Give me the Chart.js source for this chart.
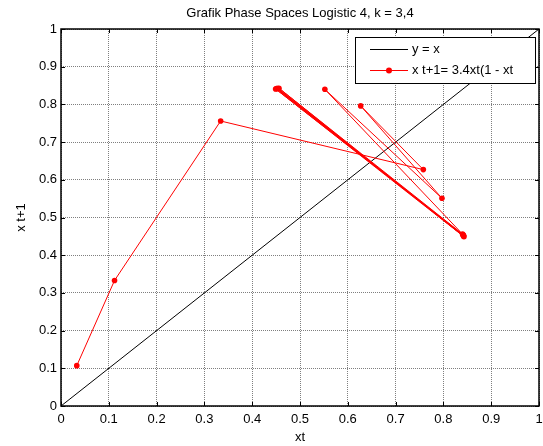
<!DOCTYPE html>
<html>
<head>
<meta charset="utf-8">
<script src="https://cdn.jsdelivr.net/npm/chart.js@4/dist/chart.umd.min.js"></script>
<style>
  html, body { margin: 0; padding: 0; background: #fff; }
  #wrap { width: 543px; height: 446px; }
</style>
</head>
<body>
<div id="wrap"><canvas id="phase-chart"></canvas></div>
<script>
// values
const xt  = [0.033, 0.112, 0.334, 0.758, 0.627, 0.797, 0.552, 0.840, 0.456, 0.843, 0.449, 0.841, 0.454, 0.842, 0.451, 0.842, 0.452, 0.842]
const xt1 = [0.107, 0.333, 0.756, 0.627, 0.796, 0.551, 0.840, 0.456, 0.843, 0.449, 0.841, 0.454, 0.842, 0.451, 0.842, 0.452, 0.842, 0.452]
const diagX = [0, 1]
const diagY = [0, 1]
const tickValues = [0, 0.1, 0.2, 0.3, 0.4, 0.5, 0.6, 0.7, 0.8, 0.9, 1]
const tickLabels = ["0", "0.1", "0.2", "0.3", "0.4", "0.5", "0.6", "0.7", "0.8", "0.9", "1"]
const titleText = "Grafik Phase Spaces Logistic 4, k = 3,4"
const legendLabels = ["y = x", "x t+1= 3.4xt(1 - xt"]

const FONT = "'Liberation Sans', Arial, sans-serif"

const matlabAxes = {
    id: "matlabAxes",
    afterDraw(chart){
        const ctx = chart.ctx
        const a = chart.chartArea
        const sx = chart.scales.x, sy = chart.scales.y
        ctx.save()
        // title
        ctx.fillStyle = "#000"
        ctx.font = "13px " + FONT
        ctx.textAlign = "center"
        ctx.textBaseline = "middle"
        ctx.fillText(titleText, (a.left + a.right) / 2, 13)
        // inward ticks on all four sides
        ctx.strokeStyle = "#000"
        ctx.lineWidth = 1
        ctx.beginPath()
        tickValues.forEach(v => {
            const px = Math.round(sx.getPixelForValue(v)) + 0.5
            ctx.moveTo(px, a.bottom); ctx.lineTo(px, a.bottom - 4)
            ctx.moveTo(px, a.top); ctx.lineTo(px, a.top + 4)
            const py = Math.round(sy.getPixelForValue(v)) + 0.5
            ctx.moveTo(a.left, py); ctx.lineTo(a.left + 4, py)
            ctx.moveTo(a.right, py); ctx.lineTo(a.right - 4, py)
        })
        ctx.stroke()
        // legend box
        const lx = 355.5, ly = 37.5, lw = 180, lh = 46
        ctx.fillStyle = "#fff"
        ctx.fillRect(lx, ly, lw, lh)
        ctx.strokeStyle = "#000"
        ctx.strokeRect(lx, ly, lw, lh)
        const rows = [49.5, 70.5]
        ctx.beginPath()
        ctx.moveTo(370, rows[0]); ctx.lineTo(408, rows[0])
        ctx.strokeStyle = "#000"
        ctx.stroke()
        ctx.beginPath()
        ctx.moveTo(370, rows[1]); ctx.lineTo(408, rows[1])
        ctx.strokeStyle = "#ff0000"
        ctx.stroke()
        ctx.beginPath()
        ctx.arc(389, rows[1], 3, 0, Math.PI * 2)
        ctx.fillStyle = "#ff0000"
        ctx.fill()
        ctx.fillStyle = "#000"
        ctx.textAlign = "left"
        ctx.textBaseline = "middle"
        ctx.font = "13px " + FONT
        ctx.fillText(legendLabels[0], 412, rows[0])
        ctx.fillText(legendLabels[1], 412, rows[1])
        // axes box
        ctx.lineWidth = 1.5
        ctx.strokeStyle = "#000"
        ctx.strokeRect(a.left, a.top, a.right - a.left, a.bottom - a.top)
        ctx.restore()
    }
}

const axisCommon = {
    type: "linear",
    min: 0,
    max: 1,
    afterBuildTicks: s => { s.ticks = tickValues.map(v => ({ value: v })) },
    grid: { color: "rgba(0,0,0,0.5)", lineWidth: 1, drawTicks: false },
    border: { display: false, dash: [1, 1] },
}

const tickFont = { size: 13, family: FONT }

new Chart(document.getElementById("phase-chart"), {
    type: "scatter",
    data: {
        datasets: [
            {
                label: legendLabels[1],
                data: xt.map((v, i) => ({ x: v, y: xt1[i] })),
                showLine: true,
                borderColor: "#ff0000",
                backgroundColor: "#ff0000",
                borderWidth: 1,
                pointRadius: 2.8,
                pointBorderWidth: 0,
                tension: 0,
            },
            {
                label: legendLabels[0],
                data: diagX.map((v, i) => ({ x: v, y: diagY[i] })),
                showLine: true,
                borderColor: "#000",
                borderWidth: 1,
                pointRadius: 0,
            },
        ]
    },
    options: {
        responsive: true,
        maintainAspectRatio: false,
        animation: false,
        layout: { padding: { top: 29, right: 3, left: 0, bottom: 0 } },
        plugins: { legend: { display: false }, tooltip: { enabled: false } },
        scales: {
            x: Object.assign({}, axisCommon, {
                ticks: { color: "#000", font: tickFont, padding: 6, maxRotation: 0,
                         callback: (v, i) => tickLabels[i] },
                title: { display: true, text: "xt", color: "#000", font: tickFont, padding: { top: 0, bottom: 1 } },
                afterFit: s => { s.height = 40; s.paddingLeft = 0; s.paddingRight = 0 },
            }),
            y: Object.assign({}, axisCommon, {
                ticks: { color: "#000", font: tickFont, padding: 4,
                         callback: (v, i) => tickLabels[i] },
                title: { display: true, text: "x t+1", color: "#000", font: tickFont, padding: { top: 14, bottom: 0 } },
                afterFit: s => { s.width = 61; s.paddingTop = 0; s.paddingBottom = 0 },
            }),
        }
    },
    plugins: [matlabAxes]
});
</script>
</body>
</html>
